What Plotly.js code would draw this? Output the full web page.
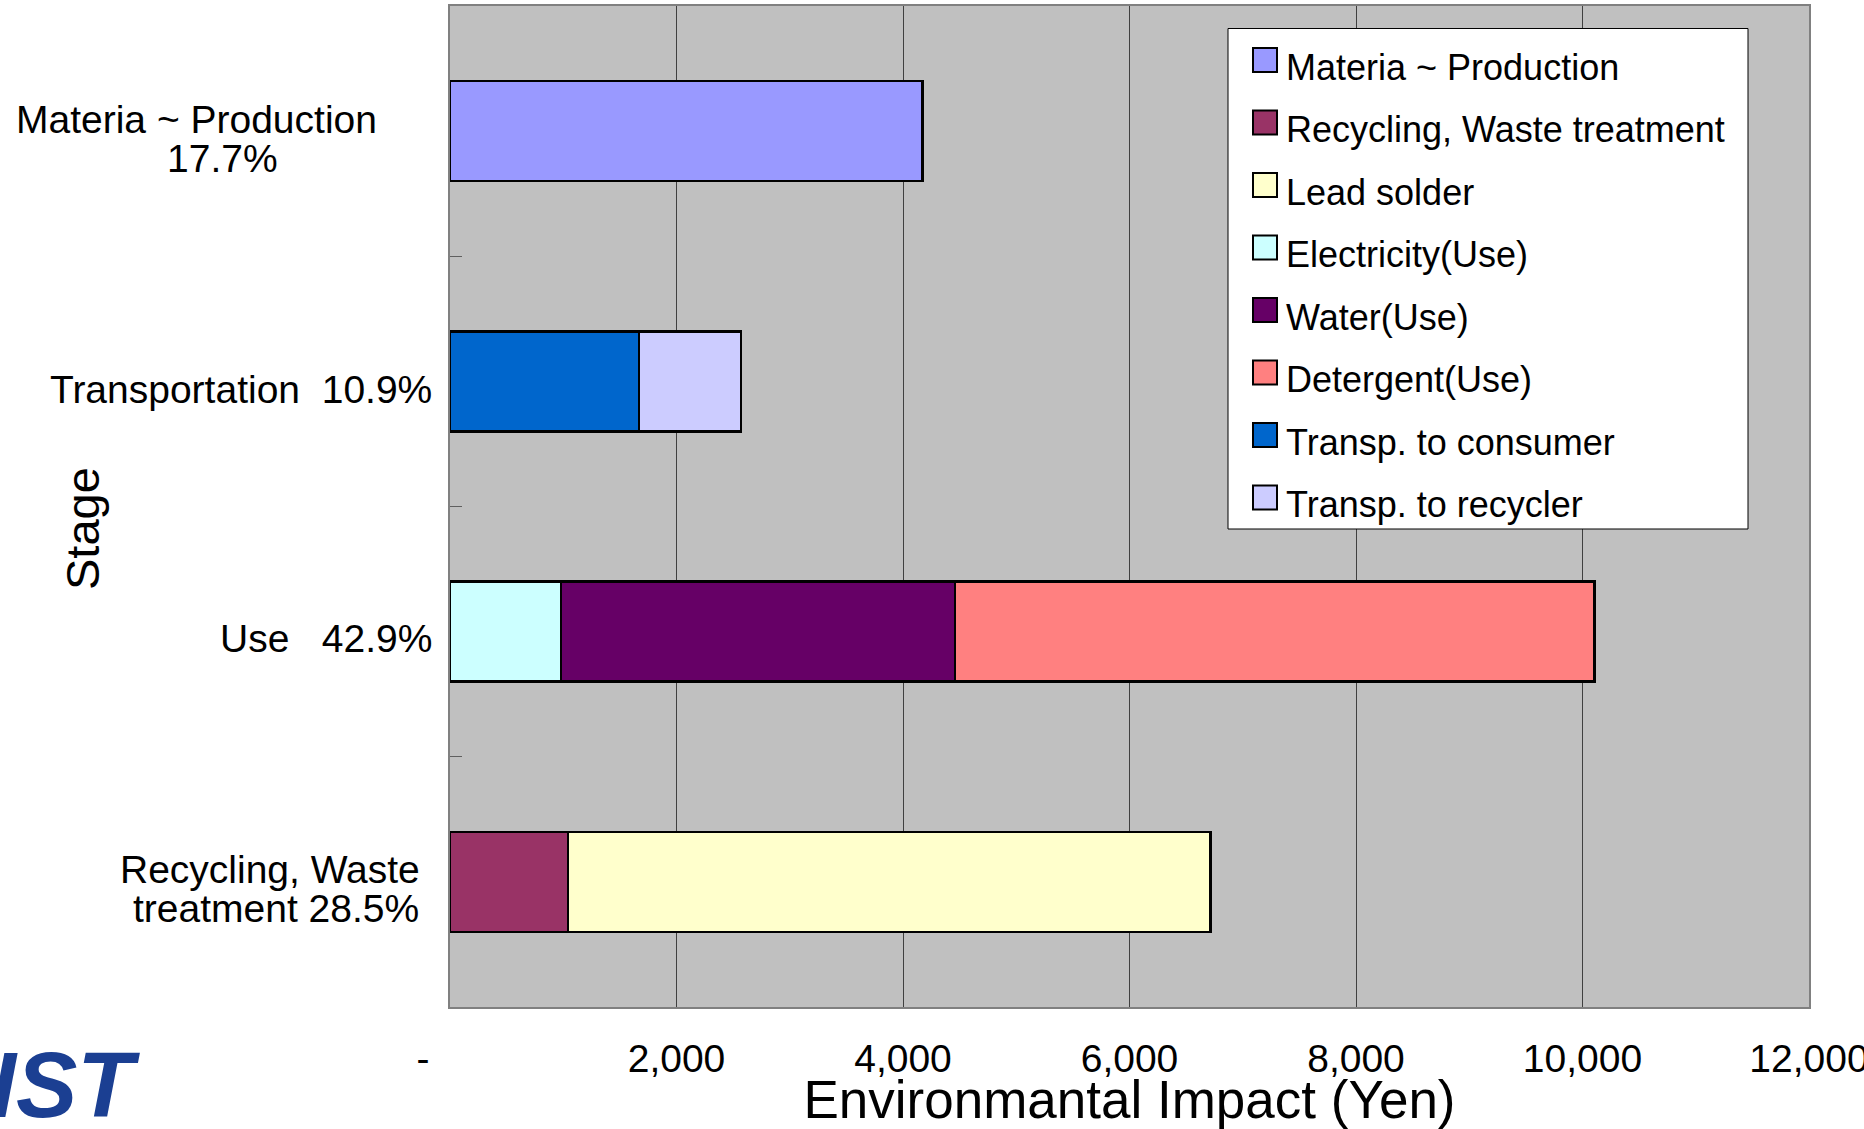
<!DOCTYPE html>
<html>
<head>
<meta charset="utf-8">
<script src="https://cdn.plot.ly/plotly-3.0.1.min.js"></script>
<style>
  html, body { margin: 0; padding: 0; background: #ffffff; }
  #chart { width: 1864px; height: 1129px; }
</style>
</head>
<body>
<div id="chart"></div>
<script>
// Life-cycle stages, listed top to bottom
const stages = ['Materia ~ Production', 'Transportation', 'Use', 'Recycling, Waste treatment'];
// Stage labels as printed beside the bars (name and share of total impact), one entry per line
const stageLabelLines = [
  ['Materia ~ Production', '17.7%'],
  ['Transportation\u00A0\u00A010.9%'],
  ['Use\u00A0\u00A0\u00A042.9%'],
  ['Recycling, Waste', 'treatment\u00A028.5%']
];

// Impact components, in stacking and legend order
const componentNames = [
  'Materia ~ Production',
  'Recycling, Waste treatment',
  'Lead solder',
  'Electricity(Use)',
  'Water(Use)',
  'Detergent(Use)',
  'Transp. to consumer',
  'Transp. to recycler'
];
const componentStage = [
  'Materia ~ Production',
  'Recycling, Waste treatment',
  'Recycling, Waste treatment',
  'Use',
  'Use',
  'Use',
  'Transportation',
  'Transportation'
];
// Environmental impact of each component (Yen)
const componentYen = [4170, 1040, 5675, 980, 3480, 5647, 1670, 898];
const componentColors = ['#9999FF', '#993366', '#FFFFCC', '#CCFFFF', '#660066', '#FF8080', '#0066CC', '#CCCCFF'];

// Value axis ticks
const xTickValues = [0, 2000, 4000, 6000, 8000, 10000, 12000];
const xTickLabels = ['-\u00A0\u00A0\u00A0\u00A0\u00A0', '2,000', '4,000', '6,000', '8,000', '10,000', '12,000'];

const FONT = 'Liberation Sans, Arial, Helvetica, sans-serif';

// Plot-area geometry in pixels, used to place the free-standing labels
const W = 1864, H = 1129;
const M = { l: 450, r: 55, t: 6, b: 122 };
const plotW = W - M.l - M.r;
const plotH = H - M.t - M.b;
const px2paperX = px => (px - M.l) / plotW;
const px2paperY = py => (H - M.b - py) / plotH;

const traces = componentNames.map((name, i) => ({
  type: 'bar',
  orientation: 'h',
  name: name,
  x: [componentYen[i]],
  y: [componentStage[i]],
  legendgroup: 'c' + i,
  marker: { color: componentColors[i], line: { color: '#000000', width: 2.5 } },
  hovertemplate: name + ': %{x:,} Yen<extra></extra>'
}));

// Stage labels on the category axis: per-line horizontal position, anchor and vertical offset
const labelX = [[196, 223], [434], [434], [270, 276]];
const labelAnchor = [['center', 'center'], ['right'], ['right'], ['center', 'center']];
const labelShift = [[12, -27], [-8], [-7], [12, -27]];
const annotations = [];
stages.forEach((s, i) => {
  stageLabelLines[i].forEach((line, j) => {
    annotations.push({
      xref: 'paper', yref: 'y',
      x: px2paperX(labelX[i][j]), y: s,
      xanchor: labelAnchor[i][j], yanchor: 'middle',
      yshift: labelShift[i][j],
      showarrow: false,
      text: line,
      font: { family: FONT, size: 39, color: '#000000' }
    });
  });
});

// Category axis title
annotations.push({
  xref: 'paper', yref: 'paper',
  x: px2paperX(82), y: px2paperY(529),
  xanchor: 'center', yanchor: 'middle',
  textangle: -90,
  showarrow: false,
  text: 'Stage',
  font: { family: FONT, size: 47, color: '#000000' }
});

// Institute logotype, bottom left
annotations.push({
  xref: 'paper', yref: 'paper',
  x: px2paperX(142), y: px2paperY(1085),
  xanchor: 'right', yanchor: 'middle',
  showarrow: false,
  text: '<b><i>AIST</i></b>',
  font: { family: FONT, size: 92, color: '#1B3F92' }
});

// Legend frame
const shapes = [{
  type: 'rect', layer: 'above',
  xref: 'paper', yref: 'paper',
  x0: px2paperX(1228), x1: px2paperX(1748),
  y0: px2paperY(529), y1: px2paperY(28.5),
  fillcolor: '#ffffff',
  line: { color: '#000000', width: 1 }
}];

const layout = {
  width: W, height: H,
  margin: M,
  paper_bgcolor: '#ffffff',
  plot_bgcolor: '#C0C0C0',
  barmode: 'stack',
  bargap: 0.6,
  font: { family: FONT, color: '#000000' },
  showlegend: true,
  legend: {
    x: px2paperX(1228), y: px2paperY(36),
    xanchor: 'left', yanchor: 'top',
    bgcolor: 'rgba(0,0,0,0)',
    borderwidth: 0,
    font: { family: FONT, size: 36, color: '#000000' },
    traceorder: 'grouped',
    tracegroupgap: 12.7,
    itemwidth: 48
  },
  xaxis: {
    range: [0, 12000],
    tickmode: 'array',
    tickvals: xTickValues,
    ticktext: xTickLabels,
    tickfont: { family: FONT, size: 39, color: '#000000' },
    ticks: 'inside', ticklen: 6, tickcolor: '#404040',
    ticklabelstandoff: 16,
    ticklabeloverflow: 'allow',
    showgrid: true, gridcolor: '#404040', gridwidth: 1,
    zeroline: false,
    showline: true, linecolor: '#808080', linewidth: 2, mirror: true,
    automargin: false,
    fixedrange: true,
    title: {
      text: 'Environmantal Impact (Yen)',
      font: { family: FONT, size: 53, color: '#000000' },
      standoff: 14
    }
  },
  yaxis: {
    type: 'category',
    categoryorder: 'array',
    categoryarray: stages,
    autorange: 'reversed',
    showticklabels: false,
    ticks: 'inside', tickson: 'boundaries', ticklen: 12, tickcolor: '#606060',
    showgrid: false,
    zeroline: false,
    showline: true, linecolor: '#808080', linewidth: 2, mirror: true,
    automargin: false,
    fixedrange: true
  },
  shapes: shapes,
  annotations: annotations
};

Plotly.newPlot('chart', traces, layout, { displayModeBar: false }).then(gd => {
  // larger legend swatches, nudged right and up next to their labels
  const dx = 8, dy = -6, h = 12;
  gd.querySelectorAll('.legend .legendpoints path').forEach(p => {
    p.setAttribute('d', 'M' + (dx + h) + ',' + (dy + h) + 'H' + (dx - h) + 'V' + (dy - h) + 'H' + (dx + h) + 'Z');
    p.style.strokeWidth = '2px';
    p.style.stroke = '#000000';
  });
});
</script>
</body>
</html>
